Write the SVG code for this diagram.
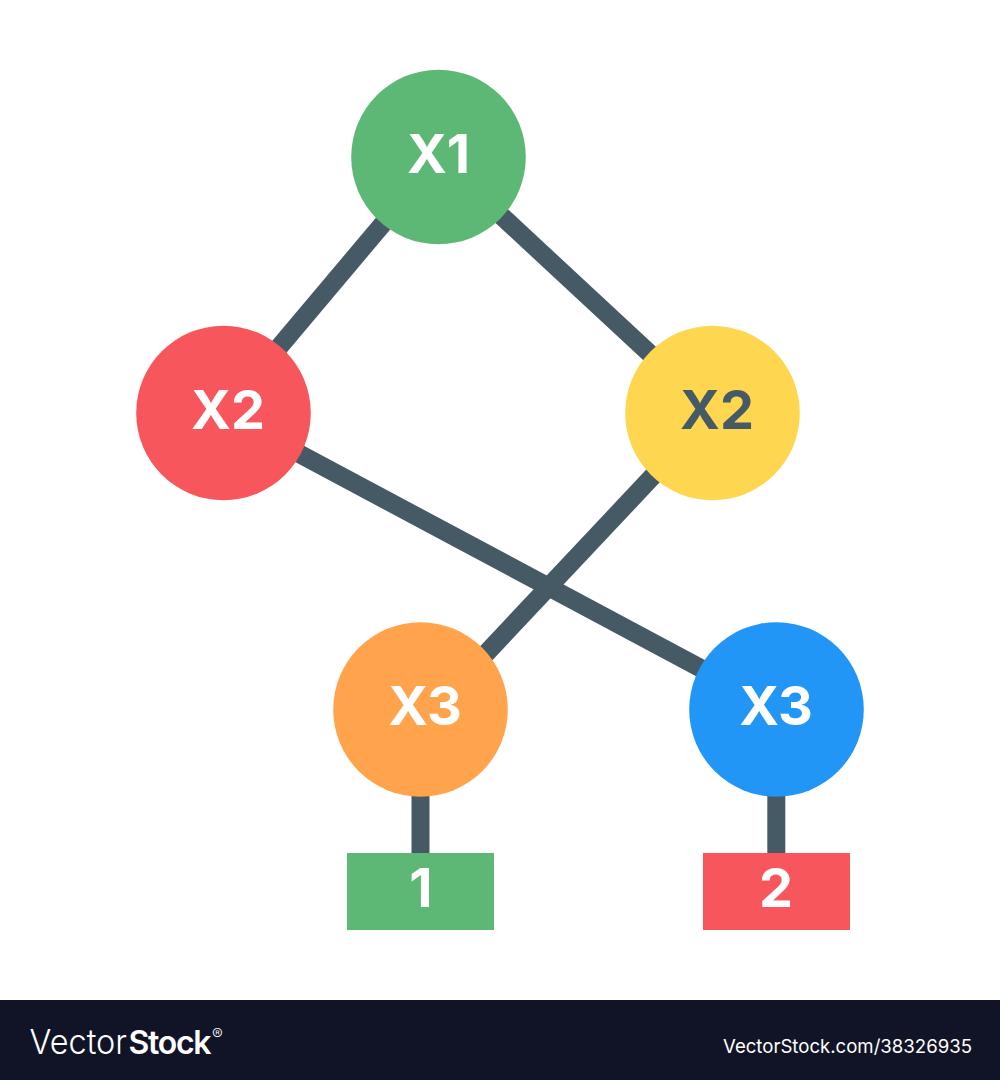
<svg xmlns="http://www.w3.org/2000/svg" width="1000" height="1080" viewBox="0 0 1000 1080">
<style>
.e{stroke:#465a66;stroke-width:18.500;fill:none}
.t{font-family:Inter,"Liberation Sans",sans-serif;font-weight:700;font-size:54px;fill:#fff;text-anchor:middle}
.g{fill:#5db876}.r{fill:#f7565c}.y{fill:#ffd64f}.o{fill:#ffa44d}.b{fill:#2196f7}
.w{font-family:Inter,"Liberation Sans",sans-serif;fill:#fff}
</style>
<rect width="1000" height="1080" fill="#fff"/>
<g id="connectors">
<line class="e" x1="395.600" y1="208.700" x2="267.400" y2="361"/>
<line class="e" x1="487.600" y1="203" x2="663.400" y2="366.300"/>
<line class="e" x1="282.700" y1="444.900" x2="717.300" y2="677.100"/>
<line class="e" x1="666.400" y1="461.700" x2="473" y2="667.300"/>
<line class="e" x1="420.500" y1="780" x2="420.500" y2="860" style="stroke-width:18"/>
<line class="e" x1="776.300" y1="780" x2="776.300" y2="860" style="stroke-width:18"/>
</g>
<g id="n1"><circle class="g" cx="438.500" cy="157" r="87.300"/><text class="t" x="438.500" y="173">X1</text></g>
<g id="n2"><circle class="r" cx="223.500" cy="413" r="87.300"/><text class="t" x="228" y="428.500">X2</text></g>
<g id="n3"><circle class="y" cx="712.500" cy="413" r="87.300"/><text class="t" x="717" y="428.500" style="fill:#465a66">X2</text></g>
<g id="n4"><circle class="o" cx="420.500" cy="709.500" r="87.300"/><text class="t" x="425" y="725">X3</text></g>
<g id="n5"><circle class="b" cx="776.500" cy="709.500" r="87.300"/><text class="t" x="776" y="725">X3</text></g>
<g id="leaf1"><rect class="g" x="347" y="853" width="147" height="77"/><text class="t" x="421" y="907">1</text></g>
<g id="leaf2"><rect class="r" x="703" y="853" width="147" height="77"/><text class="t" x="776" y="907">2</text></g>
<g id="footer">
<rect y="1000" width="1000" height="80" fill="#111426"/>
<text class="w" x="29.500" y="1054" font-size="34.500" font-weight="300" textLength="97.500" lengthAdjust="spacingAndGlyphs">Vector</text>
<text class="w" x="128.500" y="1054" font-size="32" font-weight="600" letter-spacing="-1.300">Stock</text>
<text class="w" x="212" y="1040" font-size="16" font-weight="300">®</text>
<text class="w" x="723" y="1053" font-size="19" textLength="249" lengthAdjust="spacingAndGlyphs">VectorStock.com/38326935</text>
</g>
</svg>
